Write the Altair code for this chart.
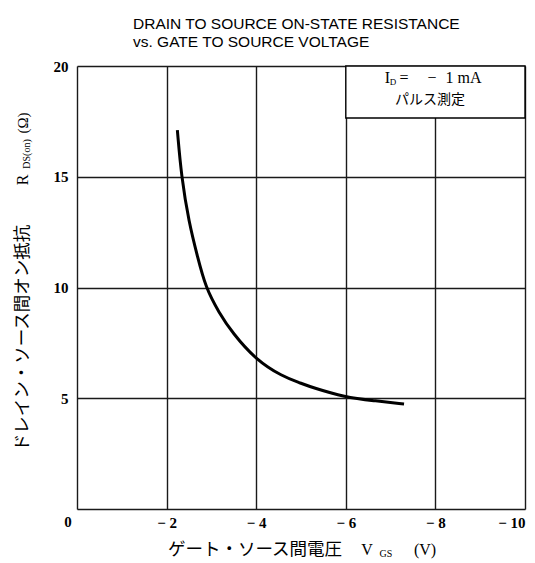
import altair as alt
import pandas as pd

# Curve: V_GS (V) vs R_DS(on) (ohm)
vgs = [-2.24, -2.33, -2.50, -2.69, -2.87, -3.17, -3.47, -3.99, -4.59, -4.97, -5.27, -5.98, -6.62, -7.30]
rds = [17.1, 15.0, 12.92, 11.39, 10.0, 8.86, 7.95, 6.74, 5.98, 5.70, 5.47, 5.05, 4.89, 4.74]

x_ticks = [0, -2, -4, -6, -8, -10]
y_ticks = [0, 5, 10, 15, 20]

# Condition box (data units)
box_x = [-6]
box_x2 = [-10]
box_y = [20]
box_y2 = [17.65]

W, H = 448, 443
SERIF = "Liberation Serif"
JP = "Noto Sans CJK JP"
SANS = "Liberation Sans"

df = pd.DataFrame({"vgs": vgs, "rds": rds})
box = pd.DataFrame({"x": box_x, "x2": box_x2, "y": box_y, "y2": box_y2})

xs = alt.Scale(domain=[0, -10], nice=False)
ys = alt.Scale(domain=[0, 20], nice=False)

base = alt.Chart(df).mark_line(color="black", strokeWidth=3, interpolate="basis").encode(
    x=alt.X("vgs:Q", scale=xs, axis=alt.Axis(
        values=x_ticks, title=None, grid=True, gridColor="#1a1a1a", gridWidth=1.4,
        domain=False, ticks=False, labelFont=SERIF, labelFontSize=15, labelColor="black",
        labelPadding=6, labelFontWeight="bold",
        labelExpr="datum.value == 0 ? '' : '\u2212 ' + abs(datum.value)")),
    y=alt.Y("rds:Q", scale=ys, axis=alt.Axis(
        values=y_ticks, title=None, grid=True, gridColor="#1a1a1a", gridWidth=1.4,
        domain=False, ticks=False, labelFont=SERIF, labelFontSize=15, labelColor="black",
        labelPadding=9, labelFontWeight="bold",
        labelExpr="datum.value == 0 ? '' : datum.label")),
)

rect = alt.Chart(box).mark_rect(fill="white", stroke="black", strokeWidth=1.4).encode(
    x=alt.X("x:Q", scale=xs), x2="x2:Q",
    y=alt.Y("y:Q", scale=ys), y2="y2:Q",
)


def txt(s, x, y, font=SERIF, size=15, align="center", angle=0, weight="normal", color="black"):
    return alt.Chart(pd.DataFrame({"t": [s]})).mark_text(
        font=font, fontSize=size, align=align, baseline="middle", angle=angle,
        fontWeight=weight, color=color,
    ).encode(x=alt.value(x), y=alt.value(y), text="t:N")


texts = [
    # title
    txt("DRAIN TO SOURCE ON-STATE RESISTANCE", 56, -42.5, font=SANS, size=15.5, align="left"),
    txt("vs. GATE TO SOURCE VOLTAGE", 56, -24, font=SANS, size=15.5, align="left"),
    # corner zero
    txt("0", -9, 456, weight="bold"),
    # legend box
    txt("I", 310.5, 12, size=16),
    txt("D", 316, 16, size=9),
    txt("=", 327, 12, size=16),
    txt("\u2212", 355, 12, size=16),
    txt("1", 372.5, 12, size=16),
    txt("mA", 392.5, 12, size=16),
    txt("パルス測定", 353, 34, font=JP, size=14),
    # x title
    txt("ゲート・ソース間電圧", 178, 484, font=JP, size=17.5),
    txt("V", 290, 484, size=16),
    txt("GS", 309, 488, size=10),
    txt("(V)", 348, 484, size=16),
    # y title (rotated)
    txt("ドレイン・ソース間オン抵抗", -54, 272, font=JP, size=17.5, angle=270),
    txt("R", -54, 114, size=16, angle=270),
    txt("DS(on)", -50, 88, size=10, angle=270),
    txt("(Ω)", -54, 57, size=15, angle=270),
]

chart = alt.layer(base, rect, *texts).properties(
    width=W, height=H,
    autosize=alt.AutoSizeParams(type="none"),
    padding={"left": 69, "top": 58, "right": 2, "bottom": 54},
).configure_view(stroke="black", strokeWidth=2.5).configure(background="white")

chart.save("out.html", embed_options={"renderer": "svg", "actions": False})
